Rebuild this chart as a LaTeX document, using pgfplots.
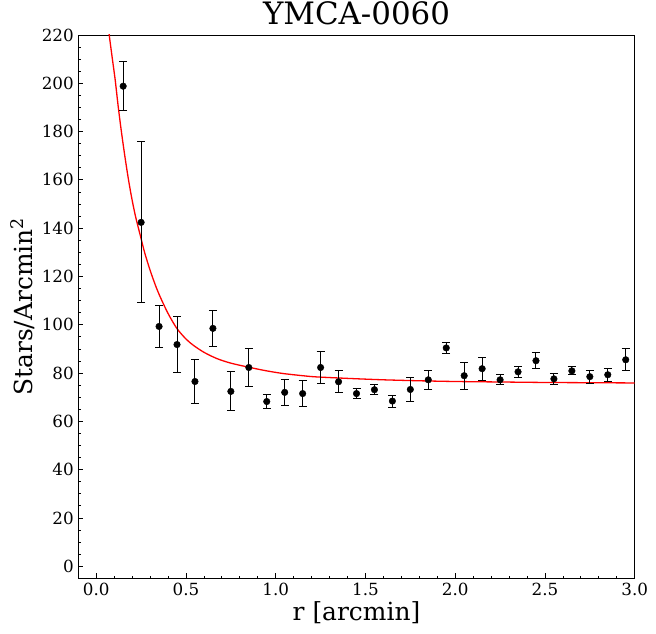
\documentclass[border=0pt]{standalone}
\usepackage{pgfplots}
\pgfplotsset{compat=1.18}
\usepackage{fontspec}
\setmainfont{DejaVu Serif}
\begin{document}
\begin{tikzpicture}
\begin{axis}[
  scale only axis, width=556.4bp, height=543.3bp,
  at={(0,0)}, anchor=south west,
  xmin=-0.1, xmax=3.0, ymin=-5, ymax=220,
  xtick={0,0.5,...,3.0}, ytick={0,20,...,220},
  minor x tick num=4, minor y tick num=3,
  xticklabel style={/pgf/number format/fixed, /pgf/number format/fixed zerofill, /pgf/number format/precision=1},
  /pgf/number format/assume math mode=true,
  tick align=inside, xtick pos=bottom, ytick pos=left,
  major tick length=5bp, minor tick length=2.7bp,
  every tick/.style={black, line width=0.8bp},
  axis line style={black, line width=0.9bp},
  tick label style={font=\fontsize{16.8pt}{20pt}\selectfont, black},
  xticklabel style={yshift=-1bp},
  yticklabel style={xshift=-1bp},
  title={YMCA-0060},
  title style={at={(axis description cs:0.5,1.0092)}, anchor=base, font=\fontsize{31pt}{36pt}\selectfont, inner sep=0pt},
  xlabel={r [arcmin]},
  xlabel style={at={(axis description cs:0.5,-0.0768)}, anchor=base, font=\fontsize{25pt}{30pt}\selectfont, inner sep=0pt},
  ylabel={Stars/Arcmin\textsuperscript{2}},
  ylabel style={at={(axis description cs:-0.0827,0.5)}, anchor=base, rotate=0, font=\fontsize{25pt}{30pt}\selectfont, inner sep=0pt},
  clip=true,
]
\addplot[red, line width=1.3bp, smooth] coordinates {
(0.060,228) (0.0723,220) (0.090,210) (0.1057,201.3) (0.122,190.6) (0.139,180.6)
(0.160,169.5) (0.180,159.9) (0.200,151.6) (0.220,144.5) (0.245,137.1) (0.270,129.8)
(0.300,122.6) (0.330,116.3) (0.356,111.6) (0.400,104.7) (0.449,98.5) (0.500,94.1)
(0.541,91.5) (0.600,88.6) (0.672,86.0) (0.750,84.1) (0.857,82.3) (0.950,80.9)
(1.042,79.8) (1.150,78.9) (1.228,78.4) (1.413,77.75) (1.600,77.2) (1.800,76.8)
(2.000,76.5) (2.250,76.3) (2.500,76.1) (2.750,76.0) (3.000,75.9)
};
\addplot[black, only marks, mark=*, mark size=3.3bp,
  error bars/.cd, y dir=both, y explicit,
  error bar style={line width=1bp, black},
  error mark options={rotate=90, mark size=4bp, line width=1bp, black}]
  table[x=x, y=y, y error=e] {
x y e
0.15 198.8 10.1
0.25 142.4 33.3
0.35 99.3 8.7
0.45 91.8 11.6
0.55 76.5 9.1
0.65 98.5 7.3
0.75 72.4 8.1
0.85 82.3 7.9
0.95 68.2 2.9
1.05 72.0 5.4
1.15 71.5 5.4
1.25 82.3 6.8
1.35 76.4 4.5
1.45 71.5 2.0
1.55 73.1 2.0
1.65 68.4 2.5
1.75 73.2 4.8
1.85 77.2 3.9
1.95 90.4 2.4
2.05 78.9 5.6
2.15 81.8 4.7
2.25 77.2 2.1
2.35 80.5 2.3
2.45 85.1 3.3
2.55 77.6 2.3
2.65 80.9 1.7
2.75 78.5 2.7
2.85 79.3 2.7
2.95 85.5 4.5
};
\end{axis}
\useasboundingbox (-78.3bp,-55.7bp) rectangle (577.7bp,578.3bp);
\end{tikzpicture}
\end{document}
